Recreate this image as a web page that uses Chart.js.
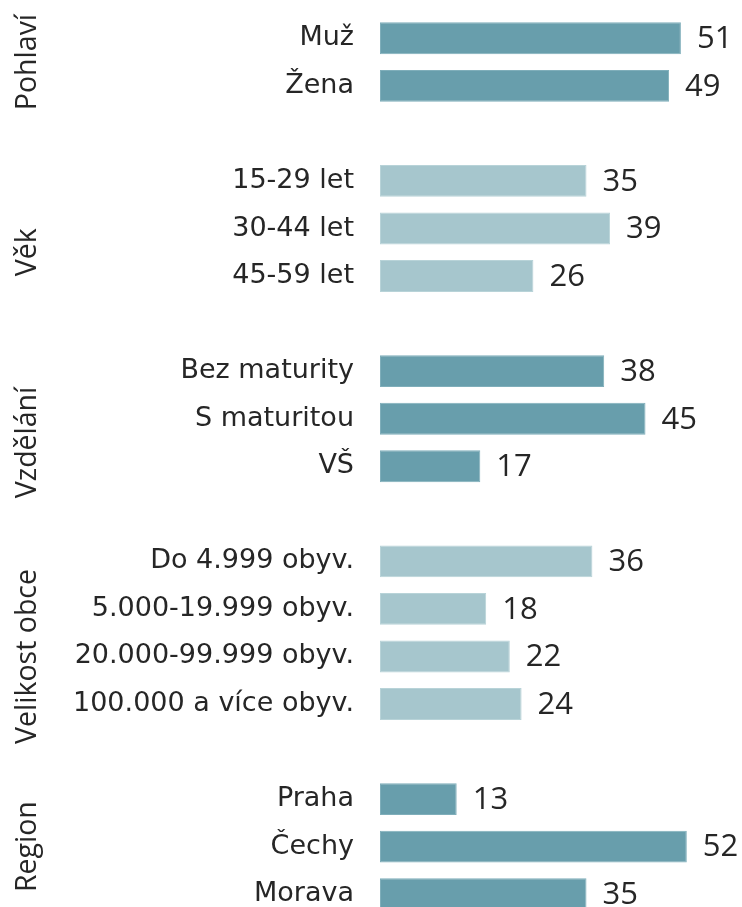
<!DOCTYPE html>
<html>
<head>
<meta charset="utf-8">
<script src="https://cdn.jsdelivr.net/npm/chart.js@4/dist/chart.umd.min.js"></script>
<style>
  html, body { margin: 0; padding: 0; background: #ffffff; overflow: hidden; }
  #wrap { position: absolute; left: 0; top: 0; width: 742px; height: 918px; }
</style>
</head>
<body>
<div id="wrap"><canvas id="c" width="742" height="918"></canvas></div>
<script>
// ---- Data ----
const groupNames = ['Pohlaví', 'Věk', 'Vzdělání', 'Velikost obce', 'Region'];
const groupCategories = [
  ['Muž', 'Žena'],
  ['15-29 let', '30-44 let', '45-59 let'],
  ['Bez maturity', 'S maturitou', 'VŠ'],
  ['Do 4.999 obyv.', '5.000-19.999 obyv.', '20.000-99.999 obyv.', '100.000 a více obyv.'],
  ['Praha', 'Čechy', 'Morava']
];
const pohlaviValues = [51, 49];
const vekValues = [35, 39, 26];
const vzdelaniValues = [38, 45, 17];
const obecValues = [36, 18, 22, 24];
const regionValues = [13, 52, 35];
const groupValues = [pohlaviValues, vekValues, vzdelaniValues, obecValues, regionValues];

const DARK = '#689EAC';
const LIGHT = '#A6C6CD';
const groupColors = [DARK, LIGHT, DARK, LIGHT, DARK];

// Build flat table with a spacer row between groups
const labels = [];
const values = [];
const colors = [];
const groupRanges = [];
groupCategories.forEach((cats, g) => {
  if (g > 0) { labels.push(''); values.push(null); colors.push('rgba(0,0,0,0)'); }
  const start = labels.length;
  cats.forEach((c, i) => {
    labels.push(c);
    values.push(groupValues[g][i]);
    colors.push(groupColors[g]);
  });
  groupRanges.push([start, labels.length - 1]);
});
// in the reference, the middle group titles are centred over their rows plus the following gap
const titleSpan = groupRanges.map((r, g) =>
  (g > 0 && g < groupRanges.length - 1) ? [r[0], r[1] + 1] : r);

const valueLabelPlugin = {
  id: 'valueLabels',
  afterDatasetsDraw(chart) {
    const ctx = chart.ctx;
    const meta = chart.getDatasetMeta(0);
    ctx.save();
    ctx.font = '31px "Open Sans"';
    ctx.fillStyle = '#262626';
    ctx.textAlign = 'left';
    ctx.textBaseline = 'middle';
    meta.data.forEach((el, i) => {
      const v = values[i];
      if (v === null || v === undefined) return;
      ctx.fillText(String(v), el.x + 16, el.y + 1);
    });
    ctx.restore();
  }
};

const groupLabelPlugin = {
  id: 'groupLabels',
  afterDraw(chart) {
    const ctx = chart.ctx;
    const ys = chart.scales.y;
    ctx.save();
    ctx.font = '28.5px "Open Sans"';
    ctx.fillStyle = '#262626';
    ctx.textAlign = 'center';
    ctx.textBaseline = 'middle';
    titleSpan.forEach((r, g) => {
      const yc = (ys.getPixelForValue(r[0]) + ys.getPixelForValue(r[1])) / 2;
      ctx.save();
      ctx.translate(28, yc);
      ctx.rotate(-Math.PI / 2);
      ctx.fillText(groupNames[g], 0, 0);
      ctx.restore();
    });
    ctx.restore();
  }
};

new Chart(document.getElementById('c'), {
  type: 'bar',
  data: {
    labels: labels,
    datasets: [{
      data: values,
      backgroundColor: colors,
      borderColor: colors.map(c => c === DARK ? '#7FAEBA' : (c === LIGHT ? '#B8D3D8' : 'rgba(0,0,0,0)')),
      borderWidth: 1,
      borderSkipped: false,
      categoryPercentage: 1.0,
      barPercentage: 0.67
    }]
  },
  options: {
    indexAxis: 'y',
    responsive: false,
    animation: false,
    layout: { padding: { top: 14.5, right: 8, bottom: 0, left: 0 } },
    plugins: {
      legend: { display: false },
      tooltip: { enabled: false }
    },
    scales: {
      x: {
        display: false,
        min: 0,
        max: 60
      },
      y: {
        grid: { display: false, drawTicks: false },
        border: { display: false },
        afterFit(scale) {
          scale.width = 380;
          scale.paddingTop = 0;
          scale.paddingBottom = 0;
        },
        ticks: {
          autoSkip: false,
          padding: 26,
          color: '#262626',
          font: { family: '"DejaVu Sans"', size: 27 }
        }
      }
    }
  },
  plugins: [valueLabelPlugin, groupLabelPlugin]
});
</script>
</body>
</html>
